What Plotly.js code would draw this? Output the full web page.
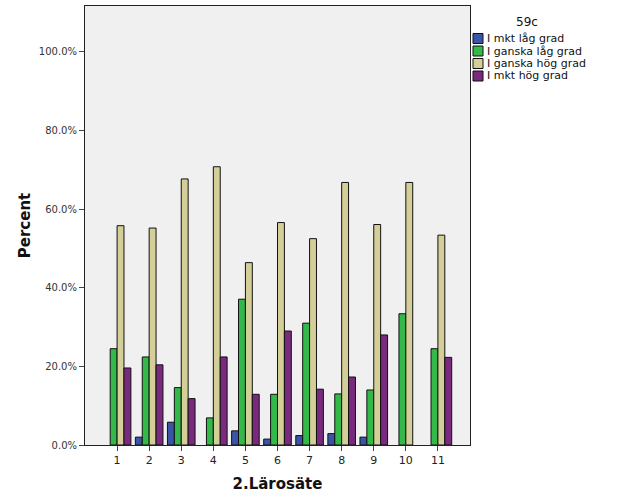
<!DOCTYPE html>
<html><head><meta charset="utf-8">
<script src="https://cdn.plot.ly/plotly-3.0.1.min.js"></script>
<style>html,body{margin:0;padding:0;background:#fff}</style>
</head><body>
<div id="chart" style="width:629px;height:504px"></div>
<script>
const categories = ["1","2","3","4","5","6","7","8","9","10","11"];
const seriesNames = ["I mkt låg grad","I ganska låg grad","I ganska hög grad","I mkt hög grad"];
const mktLag    = [null, 2.0, 5.8, null, 3.6, 1.5, 2.4, 2.9, 2.0, null, null];
const ganskaLag = [24.5, 22.4, 14.6, 6.9, 37.1, 12.9, 31.0, 13.0, 14.0, 33.4, 24.5];
const ganskaHog = [55.8, 55.2, 67.7, 70.8, 46.4, 56.6, 52.5, 66.8, 56.1, 66.8, 53.4];
const mktHog    = [19.6, 20.4, 11.8, 22.4, 12.9, 29.0, 14.2, 17.3, 28.0, null, 22.3];
const yTicks = [0, 20, 40, 60, 80, 100];
const yTickLabels = ["0.0%","20.0%","40.0%","60.0%","80.0%","100.0%"];
const legendTitle = "59c";
const colors = ["#3b55a6","#35b84a","#d4cf98","#7a2a7e"];
const values = [mktLag, ganskaLag, ganskaHog, mktHog];

const W = 629, H = 504;
const M = {l: 85, r: 159, t: 6, b: 59};
const pw = W - M.l - M.r, ph = H - M.t - M.b;
const px = x => (x - M.l) / pw;             // pixel -> paper x
const py = y => (H - M.b - y) / ph;         // pixel -> paper y

const traces = values.map((v, i) => ({
  type: "bar", x: categories, y: v, name: seriesNames[i],
  marker: {color: colors[i], line: {color: "#111", width: 1}},
  hoverinfo: "none", showlegend: false
}));

// compact SPSS-style legend
const shapes = [], annotations = [];
const rowY = [38.5, 51, 63.5, 76];
seriesNames.forEach((n, i) => {
  shapes.push({type: "rect", xref: "paper", yref: "paper",
    x0: px(473), x1: px(483), y0: py(rowY[i] + 5), y1: py(rowY[i] - 5),
    fillcolor: colors[i], line: {color: "#111", width: 1}});
  annotations.push({xref: "paper", yref: "paper", x: px(485), y: py(rowY[i]),
    xanchor: "left", yanchor: "middle", showarrow: false, text: n,
    font: {size: 11, color: "#111"}});
});
annotations.push({xref: "paper", yref: "paper", x: px(527), y: py(21.5),
  xanchor: "center", yanchor: "middle", showarrow: false, text: legendTitle,
  font: {size: 12, color: "#111"}});

const layout = {
  width: W, height: H, margin: M,
  paper_bgcolor: "#ffffff", plot_bgcolor: "#f0f0f0",
  font: {family: "DejaVu Sans, sans-serif", size: 10, color: "#222"},
  barmode: "group", bargap: 0.14, bargroupgap: 0,
  showlegend: false, shapes, annotations,
  xaxis: {
    type: "category", range: [-1, 11],
    showline: true, linecolor: "#222", linewidth: 1, mirror: true,
    ticks: "outside", ticklen: 5, tickcolor: "#444", tickwidth: 1,
    showgrid: false, zeroline: false,
    tickfont: {size: 11, color: "#222"},
    title: {text: "2.Lärosäte", font: {size: 15, color: "#111", weight: "bold"}, standoff: 12}
  },
  yaxis: {
    range: [0, 111.7],
    tickvals: yTicks, ticktext: yTickLabels,
    showline: true, linecolor: "#222", linewidth: 1, mirror: true,
    ticks: "outside", ticklen: 5, tickcolor: "#444", tickwidth: 1,
    showgrid: false, zeroline: false,
    tickfont: {size: 10, color: "#333"},
    title: {text: "Percent", font: {size: 15, color: "#111", weight: "bold"}, standoff: 4}
  }
};
Plotly.newPlot("chart", traces, layout, {displayModeBar: false, staticPlot: true});
</script>
</body></html>
